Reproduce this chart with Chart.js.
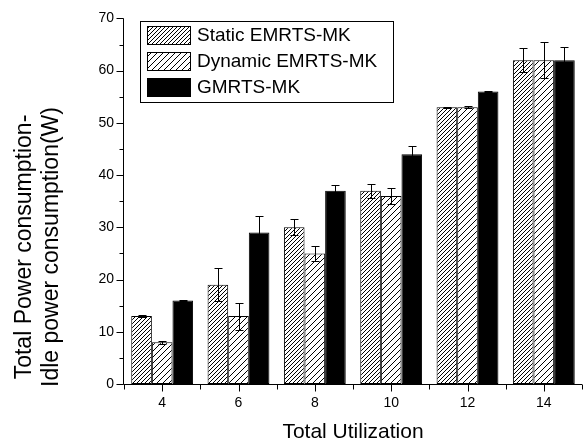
<!DOCTYPE html>
<html><head><meta charset="utf-8">
<script src="https://cdn.jsdelivr.net/npm/chart.js@4/dist/chart.umd.min.js"></script>
<style>html,body{margin:0;padding:0;background:#fff;}#wrap{width:584px;height:446px;position:relative;}</style>
</head><body><div id="wrap"><canvas id="c" width="584" height="446"></canvas></div>
<script>
const categories = ['4','6','8','10','12','14'];
const seriesLabels = ['Static EMRTS-MK','Dynamic EMRTS-MK','GMRTS-MK'];
const staticValues = [13,19,30,37,53,62];
const staticErrors = [0.2,3.2,1.5,1.3,0.1,2.3];
const dynamicValues = [8,13,25,36,53,62];
const dynamicErrors = [0.3,2.6,1.4,1.5,0.2,3.5];
const gmrtsValues = [16,29,37,44,56,62];
const gmrtsErrors = [0.1,3.1,1.1,1.5,0.1,2.5];
const yMajorTicks = [0,10,20,30,40,50,60,70];
const yMinorTicks = [5,15,25,35,45,55,65];
const xTitle = 'Total Utilization';
const yTitleLines = ['Total Power consumption-','Idle power consumption(W)'];

const FONT = '"Liberation Sans", Arial, sans-serif';

function hatch(step, h) {
  const t = document.createElement('canvas');
  t.width = step; t.height = h;
  const g = t.getContext('2d');
  g.fillStyle = '#fff'; g.fillRect(0,0,step,h);
  g.strokeStyle = '#000'; g.lineWidth = 1;
  for (let k = -1; k <= 1; k++) {
    g.beginPath();
    g.moveTo(-step + k*step, 2*h);
    g.lineTo(2*step + k*step, -h);
    g.stroke();
  }
  return document.getElementById('c').getContext('2d').createPattern(t, 'repeat');
}
const staticFill = hatch(4, 4);
const dynamicFill = hatch(6, 6);
const errorsBySeries = [staticErrors, dynamicErrors, gmrtsErrors];

const decor = {
  id: 'decor',
  afterDatasetsDraw(chart) {
    const ctx = chart.ctx, ys = chart.scales.y;
    ctx.save();
    ctx.strokeStyle = '#000'; ctx.lineWidth = 1;
    chart.data.datasets.forEach((ds, i) => {
      const meta = chart.getDatasetMeta(i);
      meta.data.forEach((el, j) => {
        const v = ds.data[j], e = errorsBySeries[i][j];
        const x = Math.round(el.x) + 0.5;
        const yt = Math.round(ys.getPixelForValue(v + e)) + 0.5;
        const yb = Math.round(ys.getPixelForValue(v - e)) + 0.5;
        ctx.beginPath();
        ctx.moveTo(x, yt); ctx.lineTo(x, yb);
        ctx.moveTo(x - 4, yt); ctx.lineTo(x + 4, yt);
        ctx.moveTo(x - 4, yb); ctx.lineTo(x + 4, yb);
        ctx.stroke();
      });
    });
    ctx.restore();
  },
  afterDraw(chart) {
    const ctx = chart.ctx, a = chart.chartArea, xs = chart.scales.x, ys = chart.scales.y;
    ctx.save();
    ctx.strokeStyle = '#000'; ctx.lineWidth = 1;
    const L = a.left - 0.5, B = a.bottom + 0.5;
    ctx.beginPath();
    ctx.moveTo(L, a.top); ctx.lineTo(L, B);
    ctx.lineTo(a.right, B);
    yMajorTicks.forEach(v => { const y = Math.round(ys.getPixelForValue(v)) + 0.5; ctx.moveTo(L - 7, y); ctx.lineTo(L, y); });
    yMinorTicks.forEach(v => { const y = Math.round(ys.getPixelForValue(v)) + 0.5; ctx.moveTo(L - 4, y); ctx.lineTo(L, y); });
    const n = categories.length;
    for (let i = 0; i < n; i++) {
      const x = Math.round(xs.getPixelForValue(i)) + 0.5;
      ctx.moveTo(x, B); ctx.lineTo(x, B + 7);
    }
    for (let i = 0; i <= n; i++) {
      const x = Math.round(xs.getPixelForValue(i - 0.5)) + 0.5;
      ctx.moveTo(x, B); ctx.lineTo(x, B + 5);
    }
    ctx.stroke();

    // legend
    const lx = 140, ly = 21, lw = 253, lh = 81;
    ctx.fillStyle = '#fff';
    ctx.fillRect(lx, ly, lw, lh);
    ctx.strokeRect(lx + 0.5, ly + 0.5, lw, lh);
    const fills = [staticFill, dynamicFill, '#000'];
    const rowsY = [26, 52, 78];
    ctx.font = '19px ' + FONT;
    ctx.textBaseline = 'middle';
    ctx.textAlign = 'left';
    seriesLabels.forEach((lab, i) => {
      ctx.fillStyle = fills[i];
      ctx.fillRect(147, rowsY[i], 43, 18);
      ctx.strokeRect(147.5, rowsY[i] + 0.5, 43, 18);
      ctx.fillStyle = '#000';
      ctx.fillText(lab, 197, rowsY[i] + 10);
    });

    // titles
    ctx.fillStyle = '#000';
    ctx.textAlign = 'center';
    ctx.textBaseline = 'alphabetic';
    ctx.font = '21px ' + FONT;
    ctx.fillText(xTitle, (a.left + a.right) / 2, 438);
    ctx.font = '23px ' + FONT;
    ctx.translate(0, 247);
    ctx.rotate(-Math.PI / 2);
    ctx.fillText(yTitleLines[0], 0, 31);
    ctx.fillText(yTitleLines[1], 0, 58);
    ctx.restore();
  }
};

new Chart(document.getElementById('c'), {
  type: 'bar',
  data: {
    labels: categories,
    datasets: [
      { label: seriesLabels[0], data: staticValues, backgroundColor: staticFill },
      { label: seriesLabels[1], data: dynamicValues, backgroundColor: dynamicFill },
      { label: seriesLabels[2], data: gmrtsValues, backgroundColor: '#000' }
    ].map(d => Object.assign(d, { borderColor: '#000', borderWidth: 1, borderSkipped: false, barPercentage: 1, categoryPercentage: 0.81 }))
  },
  options: {
    responsive: false,
    animation: false,
    devicePixelRatio: 1,
    layout: { padding: { top: 15, right: 2, left: 0, bottom: 0 } },
    plugins: { legend: { display: false }, tooltip: { enabled: false } },
    scales: {
      x: {
        offset: true,
        grid: { display: false, drawTicks: false },
        border: { display: false },
        ticks: { color: '#000', font: { family: FONT, size: 14 }, padding: 11, maxRotation: 0 },
        afterFit(s) { s.height = 62; }
      },
      y: {
        min: 0, max: 70,
        grid: { display: false, drawTicks: false },
        border: { display: false },
        ticks: { stepSize: 10, color: '#000', font: { family: FONT, size: 14 }, padding: 10 },
        afterFit(s) { s.width = 124; }
      }
    }
  },
  plugins: [decor]
});
</script></body></html>
